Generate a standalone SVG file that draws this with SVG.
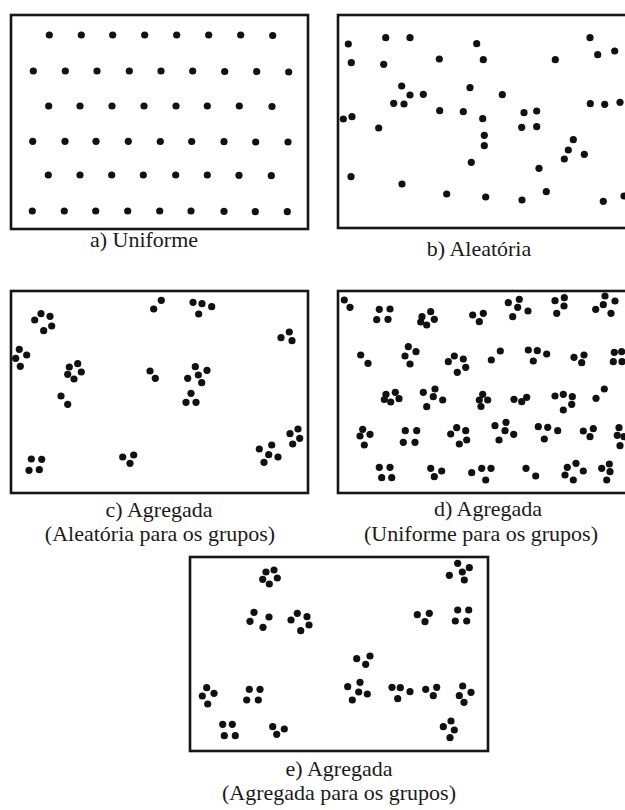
<svg xmlns="http://www.w3.org/2000/svg" width="625" height="810" viewBox="0 0 625 810">
<style>
  .frame { fill: #fff; stroke: #151515; stroke-width: 2.6; }
  circle { fill: #111; r: 3.6px; }
  text { font-family: "Liberation Serif", "Times New Roman", serif; font-size: 22px; fill: #1a1a1a; text-anchor: middle; }
</style>
<rect width="625" height="810" fill="#fff"/>

<!-- a) regular lattice, offset rows -->
<g id="panel-a">
  <rect class="frame" x="11" y="15" width="297" height="214"/>
  <circle cx="49.3" cy="35"/><circle cx="81.3" cy="35"/><circle cx="112.7" cy="35"/><circle cx="144.7" cy="35"/><circle cx="176.7" cy="35"/><circle cx="208.7" cy="35"/><circle cx="240.7" cy="35"/><circle cx="272.7" cy="35.5"/>
  <circle cx="33.3" cy="71"/><circle cx="65.3" cy="71"/><circle cx="97" cy="71"/><circle cx="129.3" cy="71"/><circle cx="161" cy="71"/><circle cx="192.7" cy="71"/><circle cx="224.7" cy="71.5"/><circle cx="256.7" cy="71.5"/><circle cx="288.7" cy="72"/>
  <circle cx="48.7" cy="106"/><circle cx="80" cy="106"/><circle cx="112" cy="106"/><circle cx="144" cy="106"/><circle cx="176" cy="106"/><circle cx="207.3" cy="106"/><circle cx="239.3" cy="106"/><circle cx="272" cy="106.5"/>
  <circle cx="32.7" cy="141.3"/><circle cx="65" cy="141.3"/><circle cx="96" cy="141.3"/><circle cx="128.3" cy="141.3"/><circle cx="160.3" cy="141.5"/><circle cx="191.7" cy="141.5"/><circle cx="224" cy="141.7"/><circle cx="255.7" cy="142"/><circle cx="288" cy="142"/>
  <circle cx="48.3" cy="175"/><circle cx="80" cy="175"/><circle cx="111.7" cy="175"/><circle cx="143.3" cy="175"/><circle cx="175.7" cy="175"/><circle cx="207.3" cy="175"/><circle cx="239" cy="175.3"/><circle cx="271.3" cy="175.7"/>
  <circle cx="32.3" cy="211"/><circle cx="64.3" cy="211"/><circle cx="95.7" cy="211"/><circle cx="127.7" cy="211"/><circle cx="159.7" cy="211"/><circle cx="191" cy="211"/><circle cx="224" cy="211.3"/><circle cx="255.3" cy="211.7"/><circle cx="287.3" cy="211.7"/>
  <text x="144" y="247">a) Uniforme</text>
</g>

<!-- b) scattered points -->
<g id="panel-b">
  <rect class="frame" x="338" y="15" width="300" height="213"/>
  <circle cx="348.3" cy="44"/><circle cx="385.7" cy="37.7"/><circle cx="410" cy="37.7"/><circle cx="476.7" cy="43.7"/><circle cx="590" cy="37.7"/>
  <circle cx="351.3" cy="62.7"/><circle cx="383.7" cy="64.3"/><circle cx="439.3" cy="59"/><circle cx="483.3" cy="59.7"/><circle cx="555.3" cy="59.7"/><circle cx="597.7" cy="54.7"/><circle cx="614.7" cy="51"/>
  <circle cx="401.7" cy="86"/><circle cx="410" cy="95"/><circle cx="423.3" cy="94.3"/><circle cx="470" cy="87.7"/><circle cx="502.3" cy="94.7"/>
  <circle cx="393.7" cy="103.3"/><circle cx="404" cy="104"/><circle cx="439.7" cy="110.7"/><circle cx="463.3" cy="111.7"/><circle cx="482.7" cy="118.7"/><circle cx="524" cy="112.7"/><circle cx="536.7" cy="111"/>
  <circle cx="590.3" cy="103.7"/><circle cx="604.7" cy="104.3"/><circle cx="620" cy="102.3"/>
  <circle cx="343.3" cy="119"/><circle cx="352" cy="116.7"/><circle cx="378.7" cy="128"/><circle cx="521.7" cy="127.3"/><circle cx="536.7" cy="126.7"/>
  <circle cx="484.3" cy="135.3"/><circle cx="484.3" cy="145.7"/><circle cx="573.3" cy="139.7"/><circle cx="568.3" cy="150"/><circle cx="564.3" cy="159"/><circle cx="584.3" cy="154.3"/>
  <circle cx="471.3" cy="162.3"/><circle cx="539" cy="168.3"/><circle cx="351" cy="176.7"/><circle cx="402" cy="184"/>
  <circle cx="446.7" cy="194"/><circle cx="485.7" cy="197"/><circle cx="522" cy="200"/><circle cx="546.3" cy="191.7"/><circle cx="603.3" cy="201.3"/><circle cx="624" cy="196"/>
  <text x="479" y="256">b) Aleatória</text>
</g>

<!-- c) clusters placed at random -->
<g id="panel-c">
  <rect class="frame" x="11" y="291" width="297" height="202"/>
  <circle cx="34.7" cy="320"/><circle cx="41" cy="313.7"/><circle cx="50" cy="316.3"/><circle cx="51.7" cy="326"/><circle cx="43.7" cy="330.7"/>
  <circle cx="19.3" cy="349.3"/><circle cx="26.7" cy="355"/><circle cx="15.7" cy="358.3"/><circle cx="20.3" cy="366.3"/>
  <circle cx="69.3" cy="367"/><circle cx="77.7" cy="363.7"/><circle cx="81.3" cy="372"/><circle cx="67.7" cy="374.3"/><circle cx="74" cy="379"/>
  <circle cx="61" cy="396"/><circle cx="67.7" cy="404.3"/>
  <circle cx="31.3" cy="459"/><circle cx="41.7" cy="459.3"/><circle cx="29" cy="470.3"/><circle cx="39.3" cy="469.7"/>
  <circle cx="153.7" cy="309"/><circle cx="161.3" cy="300.3"/>
  <circle cx="193" cy="302.3"/><circle cx="202" cy="303.7"/><circle cx="211.7" cy="306.7"/><circle cx="198.7" cy="314"/>
  <circle cx="150" cy="371"/><circle cx="155.3" cy="378.3"/>
  <circle cx="195.3" cy="366.7"/><circle cx="207" cy="370.3"/><circle cx="198.3" cy="375"/><circle cx="187.7" cy="378.3"/><circle cx="201.7" cy="382.7"/>
  <circle cx="191" cy="393.3"/><circle cx="186" cy="402.3"/><circle cx="196" cy="402.3"/>
  <circle cx="122.7" cy="457"/><circle cx="133.7" cy="455"/><circle cx="130" cy="463.3"/>
  <circle cx="281" cy="337.7"/><circle cx="289.3" cy="332"/><circle cx="292" cy="340.7"/>
  <circle cx="290" cy="433.7"/><circle cx="298" cy="429"/><circle cx="299.7" cy="438.3"/><circle cx="292.7" cy="444"/>
  <circle cx="259.3" cy="449"/><circle cx="271.7" cy="445"/><circle cx="268.7" cy="454.7"/><circle cx="278" cy="457"/><circle cx="264" cy="462.3"/>
  <text x="159" y="517">c) Agregada</text>
  <text x="160" y="541">(Aleatória para os grupos)</text>
</g>

<!-- d) clusters on a regular spacing -->
<g id="panel-d">
  <rect class="frame" x="338" y="291" width="300" height="202"/>
  <circle cx="344.3" cy="300"/><circle cx="350" cy="307.3"/>
  <circle cx="379.3" cy="309.3"/><circle cx="390" cy="309"/><circle cx="376.7" cy="319.7"/><circle cx="388" cy="319.3"/>
  <circle cx="430.7" cy="311.7"/><circle cx="422" cy="316.7"/><circle cx="434.3" cy="319.3"/><circle cx="420.7" cy="322"/><circle cx="426.7" cy="325"/>
  <circle cx="472.7" cy="315"/><circle cx="483.3" cy="313.3"/><circle cx="479.3" cy="321.7"/>
  <circle cx="508.3" cy="302.7"/><circle cx="519.3" cy="299.3"/><circle cx="517.7" cy="307.3"/><circle cx="528" cy="311"/><circle cx="512.7" cy="316.7"/>
  <circle cx="555" cy="300.7"/><circle cx="564.3" cy="297.7"/><circle cx="564" cy="306"/><circle cx="556.7" cy="313.3"/>
  <circle cx="605" cy="296"/><circle cx="615" cy="301"/><circle cx="595.7" cy="309.3"/><circle cx="603.3" cy="304.7"/><circle cx="611" cy="313.3"/>

  <circle cx="360.7" cy="355"/><circle cx="368" cy="363.3"/>
  <circle cx="408.3" cy="346.7"/><circle cx="416" cy="351.7"/><circle cx="405" cy="356"/><circle cx="410" cy="364"/>
  <circle cx="454.3" cy="356"/><circle cx="448.3" cy="361.7"/><circle cx="463.3" cy="359"/><circle cx="465.7" cy="367.3"/><circle cx="457.3" cy="372.3"/>
  <circle cx="491.3" cy="360"/><circle cx="500.3" cy="351"/>
  <circle cx="528.3" cy="350"/><circle cx="537.3" cy="350.7"/><circle cx="546.7" cy="354"/><circle cx="533.3" cy="361"/>
  <circle cx="574" cy="357.3"/><circle cx="584" cy="355"/><circle cx="581.7" cy="362.7"/>
  <circle cx="614.3" cy="352.3"/><circle cx="621.7" cy="351.7"/><circle cx="613.3" cy="361.7"/><circle cx="622" cy="361.7"/>

  <circle cx="386" cy="394.3"/><circle cx="395.3" cy="392.3"/><circle cx="399" cy="398.7"/><circle cx="384.3" cy="399.5"/><circle cx="390.7" cy="402"/>
  <circle cx="423.3" cy="392.3"/><circle cx="435" cy="389"/><circle cx="433.3" cy="396.7"/><circle cx="442.7" cy="400"/><circle cx="426.7" cy="406.7"/>
  <circle cx="482.7" cy="394.3"/><circle cx="479.3" cy="400"/><circle cx="487.7" cy="400"/><circle cx="481" cy="406.5"/>
  <circle cx="514" cy="399.3"/><circle cx="526.7" cy="397.3"/><circle cx="521.7" cy="401.7"/>
  <circle cx="555" cy="396"/><circle cx="563.3" cy="394.3"/><circle cx="572.3" cy="396.7"/><circle cx="571.7" cy="404.3"/><circle cx="563.3" cy="410"/>
  <circle cx="596" cy="398.3"/><circle cx="604.3" cy="389"/>

  <circle cx="362.7" cy="429.3"/><circle cx="360" cy="436"/><circle cx="370" cy="434.3"/><circle cx="364.3" cy="445"/>
  <circle cx="405.3" cy="430.7"/><circle cx="416.7" cy="430.7"/><circle cx="403.3" cy="442.3"/><circle cx="415" cy="442.3"/>
  <circle cx="456.7" cy="427.7"/><circle cx="450.7" cy="434"/><circle cx="465.7" cy="430.7"/><circle cx="466.7" cy="440"/><circle cx="459.3" cy="444"/>
  <circle cx="495" cy="425.7"/><circle cx="506" cy="422.3"/><circle cx="505" cy="430.7"/><circle cx="513.7" cy="434.3"/><circle cx="499" cy="440"/>
  <circle cx="538.3" cy="426.7"/><circle cx="547.7" cy="427.3"/><circle cx="557.7" cy="430.7"/><circle cx="544.3" cy="439"/>
  <circle cx="583.3" cy="431"/><circle cx="593.3" cy="428.7"/><circle cx="590" cy="436.7"/>
  <circle cx="619" cy="427.7"/><circle cx="617.3" cy="435.3"/><circle cx="624" cy="436.7"/><circle cx="620" cy="445.7"/>

  <circle cx="379.3" cy="467.3"/><circle cx="390" cy="467.3"/><circle cx="381.7" cy="477.7"/><circle cx="391.7" cy="477.7"/>
  <circle cx="430.7" cy="468.3"/><circle cx="441.7" cy="471"/><circle cx="434.3" cy="476.7"/>
  <circle cx="471.7" cy="472.7"/><circle cx="481.7" cy="468.3"/><circle cx="491" cy="468.3"/><circle cx="485.7" cy="480"/>
  <circle cx="526" cy="468.3"/><circle cx="535.7" cy="476"/>
  <circle cx="567.3" cy="467.3"/><circle cx="576" cy="463.3"/><circle cx="583.3" cy="471"/><circle cx="565" cy="475"/><circle cx="573.3" cy="480"/>
  <circle cx="601.7" cy="468.3"/><circle cx="609.3" cy="464"/><circle cx="610" cy="471.7"/><circle cx="606.7" cy="480"/>
  <text x="488" y="516">d) Agregada</text>
  <text x="481" y="541">(Uniforme para os grupos)</text>
</g>

<!-- e) clusters that are themselves clumped -->
<g id="panel-e">
  <rect class="frame" x="190" y="557" width="298" height="194"/>
  <circle cx="266" cy="572"/><circle cx="274" cy="570"/><circle cx="277.3" cy="578"/><circle cx="262.7" cy="579.3"/><circle cx="269.3" cy="584"/>
  <circle cx="457.7" cy="563.3"/><circle cx="469.3" cy="567.7"/><circle cx="462.3" cy="572"/><circle cx="449.3" cy="575.3"/><circle cx="464.3" cy="580"/>
  <circle cx="254" cy="612.3"/><circle cx="269" cy="617"/><circle cx="250" cy="621.3"/><circle cx="263" cy="627.3"/>
  <circle cx="297.3" cy="613.3"/><circle cx="307" cy="616.7"/><circle cx="291" cy="620"/><circle cx="309" cy="625"/><circle cx="300.7" cy="630.7"/>
  <circle cx="417.3" cy="614.7"/><circle cx="429.3" cy="613.3"/><circle cx="425" cy="621.7"/>
  <circle cx="457.7" cy="610"/><circle cx="468.7" cy="610"/><circle cx="455.3" cy="621"/><circle cx="466.7" cy="621"/>
  <circle cx="356.7" cy="658.7"/><circle cx="370" cy="656"/><circle cx="365.7" cy="664.3"/>
  <circle cx="360" cy="682.3"/><circle cx="347.7" cy="686.7"/><circle cx="358.7" cy="692"/><circle cx="367.3" cy="694"/><circle cx="352.3" cy="700"/>
  <circle cx="392" cy="687.3"/><circle cx="400.3" cy="687.7"/><circle cx="410" cy="691.7"/><circle cx="397.7" cy="698.7"/>
  <circle cx="425.7" cy="689.3"/><circle cx="436.7" cy="687.3"/><circle cx="433.3" cy="695.7"/>
  <circle cx="462.7" cy="686"/><circle cx="471" cy="692.3"/><circle cx="459.3" cy="695.7"/><circle cx="464" cy="702.3"/>
  <circle cx="206.7" cy="687.7"/><circle cx="214" cy="693.3"/><circle cx="202.3" cy="696"/><circle cx="207.7" cy="704"/>
  <circle cx="249.3" cy="689.3"/><circle cx="260" cy="689.3"/><circle cx="246.7" cy="700"/><circle cx="258.3" cy="700"/>
  <circle cx="222.7" cy="724.3"/><circle cx="232.3" cy="724.3"/><circle cx="224.3" cy="735.7"/><circle cx="235.3" cy="735.7"/>
  <circle cx="272.7" cy="726.7"/><circle cx="284.3" cy="729"/><circle cx="276.7" cy="734.3"/>
  <circle cx="451" cy="721"/><circle cx="443.3" cy="726.7"/><circle cx="454.3" cy="730"/><circle cx="450" cy="737.7"/>
  <text x="339" y="776">e) Agregada</text>
  <text x="339" y="800">(Agregada para os grupos)</text>
</g>
</svg>
